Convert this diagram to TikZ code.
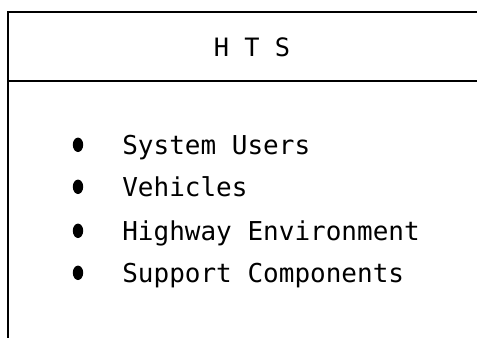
\documentclass[tikz,border=0pt]{standalone}
\usepackage{fontspec}
\newfontfamily\typefont{DejaVu Sans Mono}
\usetikzlibrary{positioning}

\tikzset{
  item/.style={anchor=base west, inner sep=0pt, font=\typefont\fontsize{18.5}{22}\selectfont},
  head/.style={anchor=base, inner sep=0pt, font=\typefont\fontsize{18}{22}\selectfont},
  dot/.style={fill=black}
}

\begin{document}
\begin{tikzpicture}
\useasboundingbox (0, 0) rectangle (11.925, 8.45);

% frame: open on the right and at the bottom
\draw [line width=1.8pt] (0.2, 8.15) -- (11.925, 8.15);
\draw [line width=1.5pt] (0.2, 6.42) -- (11.925, 6.42);
\draw [line width=0.8pt] (0.2, 8.17) -- (0.2, 0);

\node [head] (title) at (6.3, 7.05) {H T S};

\node [item] (users) at (3.05, 4.6) {System Users};
\node [item] (vehicles) at (3.05, 3.55) {Vehicles};
\node [item] (highway) at (3.05, 2.45) {Highway Environment};
\node [item] (support) at (3.05, 1.4) {Support Components};

\fill [dot] (1.95, 4.83) ellipse [x radius=0.13, y radius=0.18];
\fill [dot] (1.95, 3.78) ellipse [x radius=0.13, y radius=0.18];
\fill [dot] (1.95, 2.68) ellipse [x radius=0.13, y radius=0.18];
\fill [dot] (1.95, 1.63) ellipse [x radius=0.13, y radius=0.18];

\end{tikzpicture}
\end{document}
